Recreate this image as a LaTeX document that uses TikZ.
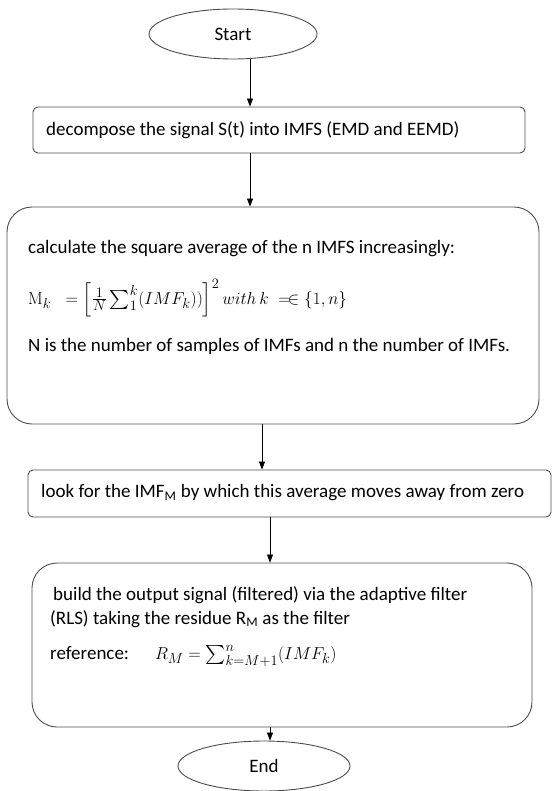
\documentclass[tikz,border=0pt]{standalone}
\usepackage{amsmath,amssymb}
\usepackage[no-math]{fontspec}
\setmainfont{Carlito}
\usepackage{tikz}
\usetikzlibrary{arrows.meta,shapes.geometric}

\begin{document}
\begin{tikzpicture}[
    x=1pt, y=-1pt,
    box/.style={draw=black!70, line width=0.9pt, rounded corners=5pt, inner sep=0pt},
    bigbox/.style={box, rounded corners=25pt},
    term/.style={draw=black!70, line width=0.9pt, ellipse, inner sep=0pt, font=\fontsize{19}{22}\selectfont},
    txt/.style={anchor=west, inner sep=0pt, font=\fontsize{19}{22}\selectfont},
    arr/.style={-{Triangle[length=8pt,width=6pt]}, line width=0.7pt}
]
\useasboundingbox (0,0) rectangle (552,791);
% terminals and boxes
\node[term, minimum width=168pt, minimum height=50pt] (start) at (233,34) {Start};
\node[box, minimum width=492pt, minimum height=46pt] (decomp) at (279,130) {};
\node[bigbox, minimum width=532pt, minimum height=217pt] (calc) at (273,315.5) {};
\node[box, minimum width=523pt, minimum height=47pt] (look) at (289.5,493.5) {};
\node[bigbox, minimum width=500pt, minimum height=164pt] (build) at (282,645) {};
\node[term, minimum width=172pt, minimum height=50pt] (end) at (264,766) {End};
% texts
\node[txt] (decompT) at (46,130) {decompose the signal S(t) into IMFS (EMD and EEMD)};
\node[txt] (calcA) at (28,249) {calculate the square average of the n IMFS increasingly:};
\node[txt] (calcB) at (28,298) {$\mathrm{M}_k\;\;=\left[\frac{1}{N}\sum\nolimits_{1}^{k}(IMF_k))\right]^2 with\,k\;=\!\in\{1,n\}$};
\node[txt] (calcC) at (28,346) {N is the number of samples of IMFs and n the number of IMFs.};
\node[txt] (lookT) at (41,493) {look for the IMF\textsubscript{M} by which this average moves away from zero};
\node[txt] (buildA) at (53,595) {build the output signal (filtered) via the adaptive filter};
\node[txt] (buildB) at (50,619) {(RLS) taking the residue R\textsubscript{M} as the filter};
\node[txt] (buildC) at (50,656) {reference:\hspace{26pt}$R_M=\sum\nolimits_{k=M+1}^{n}(IMF_k)$};
% arrow columns
\coordinate (colA) at (250,0);
\coordinate (colB) at (262,0);
\coordinate (colC) at (270,0);
\draw[arr] (start.south -| colA) -- (decomp.north -| colA);
\draw[arr] (decomp.south -| colA) -- (calc.north -| colA);
\draw[arr] (calc.south -| colB) -- (look.north -| colB);
\draw[arr] (look.south -| colC) -- (build.north -| colC);
\draw[arr] (build.south -| colC) -- (end.north -| colC);
\end{tikzpicture}
\end{document}
